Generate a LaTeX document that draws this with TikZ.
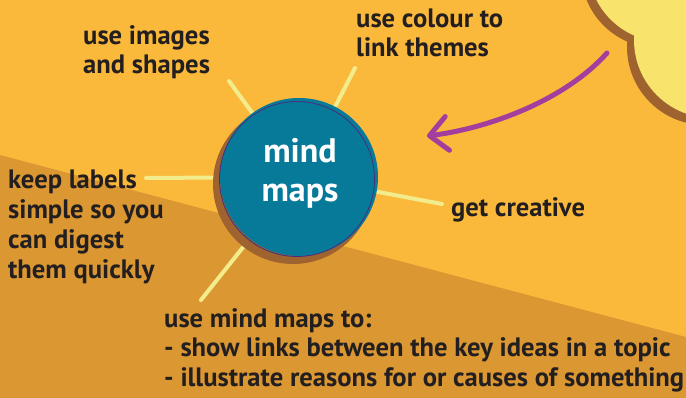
\documentclass[tikz,border=0pt]{standalone}
\usepackage{fontspec}
\setmainfont{PT Sans}
\usetikzlibrary{arrows.meta}
\definecolor{bgA}{HTML}{FBB93B}
\definecolor{bgB}{HTML}{DB9731}
\definecolor{teal}{HTML}{077A9A}
\definecolor{shadowbrown}{HTML}{9F6330}
\definecolor{raycol}{HTML}{F3EC8C}
\definecolor{arrowcol}{HTML}{A13E9E}
\definecolor{cloudcol}{HTML}{F8E46D}
\definecolor{ink}{HTML}{231F20}
\definecolor{rimcol}{HTML}{4A2D7A}
\tikzset{
  lbl/.style={anchor=base west, inner sep=0pt, align=left, text=ink,
    font=\bfseries\fontsize{26.6}{29.2}\selectfont},
  ray/.style={draw=raycol, line width=4pt, line cap=round},
  hub/.style={circle, fill=teal, minimum size=158pt, inner sep=0pt},
  hubtext/.style={anchor=base, inner sep=0pt, text=white,
    font=\bfseries\fontsize{34}{34}\selectfont},
  arrowline/.style={draw=arrowcol, line width=5pt, line cap=round,
    -{Straight Barb[length=18pt,width=34pt,round]}}
}
\begin{document}
\begin{tikzpicture}[x=1pt,y=-1pt]
\useasboundingbox (0,0) rectangle (686,398);
\clip (0,0) rectangle (686,398);
% background
\fill[bgA] (0,0) rectangle (686,398);
\fill[bgB] (0,155) -- (686,337) -- (686,398) -- (0,398) -- cycle;
% cloud
\fill[shadowbrown] (658,-29) circle (77);
\fill[shadowbrown] (705,47) circle (78);
\fill[cloudcol] (665,-35) circle (77);
\fill[cloudcol] (712,40) circle (78);
% hub position
\coordinate (hc) at (299,177);
% ray ends
\coordinate (r1) at (229,81);
\coordinate (r2) at (355,68);
\coordinate (r3) at (146,178);
\coordinate (r4) at (442,204);
\coordinate (r5) at (201,300);
\draw[ray] (hc) -- (r1);
\draw[ray] (hc) -- (r2);
\draw[ray] (hc) -- (r3);
\draw[ray] (hc) -- (r4);
\draw[ray] (hc) -- (r5);
% hub
\fill[shadowbrown] (293,184) circle (80);
\node[hub] (hub) at (hc) {};
\draw[rimcol, line width=0.8pt] (297,179) circle (77.5);
\node[hubtext] (t1) at (300,163) {mind};
\node[hubtext] (t2) at (300,202) {maps};
% labels (anchor = baseline of last line)
\node[lbl] (l1) at (83,74) {use images\\and shapes};
\node[lbl] (l2) at (356,57) {use colour to\\link themes};
\node[lbl, font=\bfseries\fontsize{26.6}{30.3}\selectfont] (l3) at (8,279) {keep labels\\simple so you\\can digest\\them quickly};
\node[lbl] (l4) at (451,217) {get creative};
\node[lbl] (l5) at (164,386) {use mind maps to:\\- show links between the key ideas in a topic\\- illustrate reasons for or causes of something};
% arrow
\coordinate (a1) at (607,53);
\coordinate (a2) at (427,136);
\draw[arrowline] (a1) .. controls (565,100) and (490,128) .. (a2);
\end{tikzpicture}
\end{document}
